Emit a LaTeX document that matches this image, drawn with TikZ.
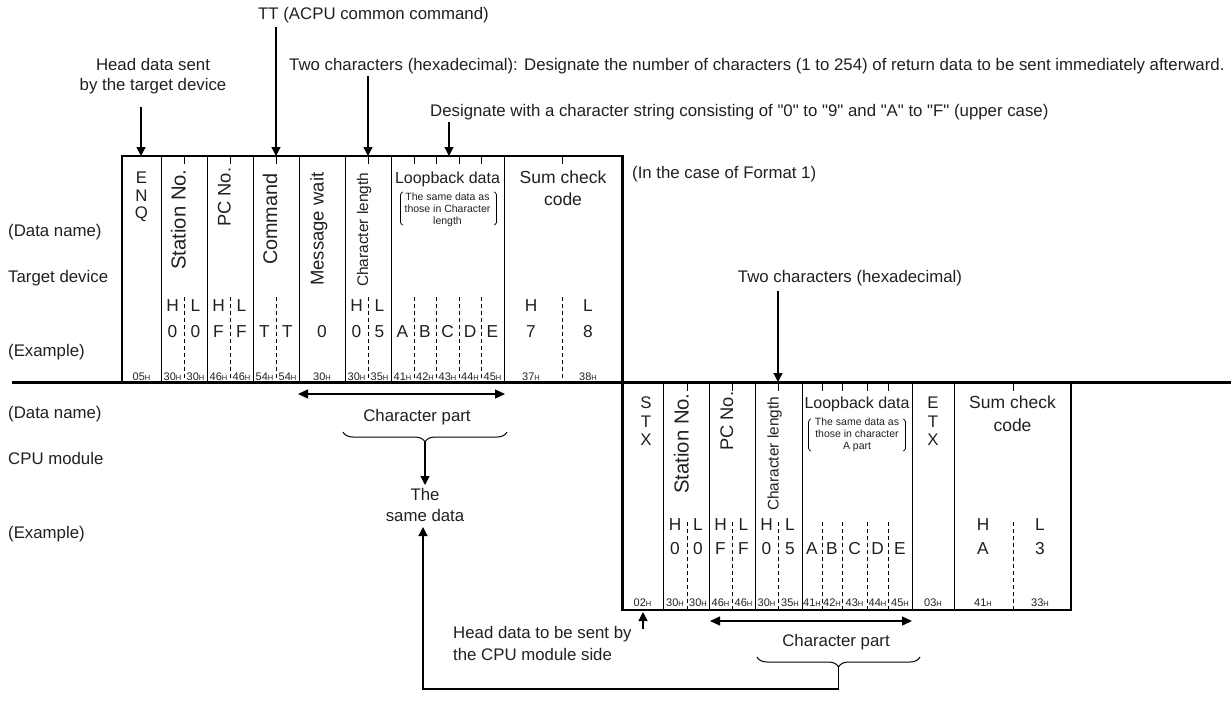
\documentclass[tikz,border=0pt]{standalone}
\usepackage{fontspec}
\setmainfont{Liberation Sans}[Ligatures=TeXOff]
\usetikzlibrary{arrows.meta,decorations.pathreplacing}
\definecolor{ink}{RGB}{35,31,32}
\newcommand\hx[1]{#1{\fontsize{7.5}{8}\selectfont H}}
\begin{document}
\begin{tikzpicture}[x=1pt,y=-1pt,
  lbl/.style={font=\fontsize{16.8}{20}\selectfont, inner sep=0pt, text=ink, text height=0.72em, text depth=0pt},
  lbll/.style={lbl, anchor=west},
  vert/.style={lbl, font=\fontsize{#1}{20}\selectfont, rotate=90, anchor=west},
  head/.style={lbl, font=\fontsize{16}{19}\selectfont},
  sum/.style={lbl, font=\fontsize{17.5}{20}\selectfont},
  cell/.style={lbl, font=\fontsize{17.3}{20}\selectfont},
  small/.style={font=\fontsize{10.5}{12}\selectfont, inner sep=0pt, text=ink, text height=0.72em, text depth=0pt},
  hex/.style={font=\fontsize{11}{12}\selectfont, inner sep=0pt, text=ink, text height=0.72em, text depth=0pt},
  frame/.style={line width=2.4pt, line join=miter},
  sep/.style={line width=1pt},
  dsh/.style={line width=0.9pt, dash pattern=on 4pt off 3pt},
  brk/.style={line width=0.7pt, rounded corners=1.5pt},
  arr/.style={line width=1.3pt, -{Triangle[length=9pt,width=9pt]}},
  darr/.style={line width=1.3pt, {Triangle[length=10pt,width=9pt]}-{Triangle[length=10pt,width=9pt]}},
  brace/.style={line width=1pt, decorate, decoration={brace, amplitude=10pt}}
]
\useasboundingbox (0,0) rectangle (1231,702);

% ---------- frames ----------
\draw[frame] (12,382.5) -- (1231,382.5);
\draw[frame] (122,382.5) |- (622.5,156) -- (622.5,610) -| (1071,382.5);

\foreach \x in {161,207,253,299,345,391,504} \draw[sep] (\x,156) -- (\x,382);
\foreach \x in {663,709,755,802,912,954} \draw[sep] (\x,383) -- (\x,610);
\foreach \x in {184,230,276,368,414,436,459,481,562} {
  \draw[sep] (\x,156) -- (\x,164);
  \draw[dsh] (\x,297) -- (\x,382);}
\foreach \x in {687,732,778,822,842,867,888,1013} {
  \draw[sep] (\x,383) -- (\x,391);
  \draw[dsh] (\x,522) -- (\x,610);}

% ---------- left labels ----------
\node[lbll] (ldn1) at (8,233) {(Data name)};
\node[lbll] (ltd)  at (8,279) {Target device};
\node[lbll] (lex1) at (8,353) {(Example)};
\node[lbll] (ldn2) at (8,415) {(Data name)};
\node[lbll] (lcpu) at (8,461) {CPU module};
\node[lbll] (lex2) at (8,535) {(Example)};

% ---------- top annotations ----------
\node[lbll] (tt) at (258,16) {TT (ACPU common command)};
\node[lbl] (hd1) at (153,67) {Head data sent};
\node[lbl] (hd2) at (153,87) {by the target device};
\node[lbll] (twoc) at (289,67) {Two characters (hexadecimal): Designate the number of characters (1 to 254) of return data to be sent immediately afterward.};
\node[lbll] (desig) at (430,113) {Designate with a character string consisting of "0" to "9" and "A" to "F" (upper case)};
\node[lbll] (fmt) at (632,175) {(In the case of Format 1)};
\node[lbl] (twoc2) at (850,279) {Two characters (hexadecimal)};

\coordinate (a1s) at (141,107); \coordinate (a1e) at (141,156);
\coordinate (a2s) at (276,27);  \coordinate (a2e) at (276,156);
\coordinate (a3s) at (368,76);  \coordinate (a3e) at (368,156);
\coordinate (a4s) at (449,122); \coordinate (a4e) at (449,156);
\coordinate (a5s) at (778,291); \coordinate (a5e) at (778,382);
\draw[arr] (a1s) -- (a1e);
\draw[arr] (a2s) -- (a2e);
\draw[arr] (a3s) -- (a3e);
\draw[arr] (a4s) -- (a4e);
\draw[arr] (a5s) -- (a5e);

% ---------- top frame content ----------
\node[lbl] (tE) at (141.5,180) {E};
\node[lbl] (tN) at (141.5,197.5) {N};
\node[lbl] (tQ) at (141.5,215) {Q};
\node[vert=20.3] (tst) at (182,270) {Station No.};
\node[vert=18.3] (tpc) at (227,227) {PC No.};
\node[vert=19.8] (tcm) at (273.5,265) {Command};
\node[vert=18.5] (tmw) at (320,286) {Message wait};
\node[vert=15.4] (tcl) at (364.5,287) {Character length};
\node[head] (tlb) at (447.5,180) {Loopback data};
\node[small] (tlb1) at (447.5,197) {The same data as};
\node[small] (tlb2) at (447.5,209) {those in Character};
\node[small] (tlb3) at (447.5,221) {length};
\draw[brk] (403,192) -- (400.5,193) -- (400.5,224) -- (403,225);
\draw[brk] (494,192) -- (496.5,193) -- (496.5,224) -- (494,225);
\node[sum] (tsc1) at (563,180) {Sum check};
\node[sum] (tsc2) at (563,202) {code};

\foreach \x/\t [count=\i] in {172.5/H,195.5/L,218.5/H,241.5/L,356.5/H,379.5/L,531/H,588/L}
  \node[cell] (thl\i) at (\x,308) {\t};
\foreach \x/\t [count=\i] in {172.5/0,195.5/0,218.5/F,241.5/F,264.5/T,287.5/T,322/0,356.5/0,379.5/5,402.5/A,425/B,447.5/C,470/D,492.5/E,531/7,588/8}
  \node[cell] (tdg\i) at (\x,334) {\t};
\foreach \x/\t [count=\i] in {141.5/05,172.5/30,195.5/30,218.5/46,241.5/46,264.5/54,287.5/54,322/30,356.5/30,379.5/35,402.5/41,425/42,447.5/43,470/44,492.5/45,531/37,588/38}
  \node[hex] (thx\i) at (\x,377) {\hx{\t}};

% ---------- bottom frame content ----------
\node[lbl] (bS) at (646,405) {S};
\node[lbl] (bT) at (646,423.5) {T};
\node[lbl] (bX) at (646,442) {X};
\node[lbl] (eE) at (933,405) {E};
\node[lbl] (eT) at (933,423.5) {T};
\node[lbl] (eX) at (933,442) {X};
\node[vert=20.3] (bst) at (685,494) {Station No.};
\node[vert=18.3] (bpc) at (729.5,451) {PC No.};
\node[vert=15.4] (bcl) at (775,511) {Character length};
\node[head] (blb) at (857,405) {Loopback data};
\node[small] (blb1) at (857,422) {The same data as};
\node[small] (blb2) at (857,434) {those in character};
\node[small] (blb3) at (857,446) {A part};
\draw[brk] (811,419) -- (808.5,420) -- (808.5,450) -- (811,451);
\draw[brk] (903,419) -- (905.5,420) -- (905.5,450) -- (903,451);
\node[sum] (bsc1) at (1012.5,405) {Sum check};
\node[sum] (bsc2) at (1012.5,428) {code};

\foreach \x/\t [count=\i] in {675/H,698/L,720.5/H,743.5/L,766.5/H,790/L,983/H,1040/L}
  \node[cell] (bhl\i) at (\x,527) {\t};
\foreach \x/\t [count=\i] in {675/0,698/0,720.5/F,743.5/F,766.5/0,790/5,812/A,832/B,854.5/C,877.5/D,900/E,983/A,1040/3}
  \node[cell] (bdg\i) at (\x,551) {\t};
\foreach \x/\t [count=\i] in {642.5/02,675/30,698/30,720.5/46,743.5/46,766.5/30,790/35,812/41,832/42,854.5/43,877.5/44,900/45,933/03,983/41,1040/33}
  \node[hex] (bhx\i) at (\x,603) {\hx{\t}};

% ---------- character parts ----------
\coordinate (c1a) at (298,394); \coordinate (c1b) at (505,394);
\draw[darr] (c1a) -- (c1b);
\node[lbl] (cp1) at (417,418) {Character part};
\draw[brace] (507,432) -- (343,432);
\coordinate (br1) at (425,442);
\node[lbl] (same1) at (425,497) {The};
\node[lbl] (same2) at (425,518) {same data};
\draw[arr] (br1) -- (425,485);

\coordinate (c2a) at (710,621); \coordinate (c2b) at (912,621);
\draw[darr] (c2a) -- (c2b);
\node[lbl] (cp2) at (836,643) {Character part};
\draw[brace] (920,657) -- (757,657);
\coordinate (br2) at (838.5,667);
\coordinate (ret) at (423,527);
\draw[arr] (br2) |- (423,689) -- (ret);

\node[lbll] (hc1) at (453,635) {Head data to be sent by};
\node[lbll] (hc2) at (453,657) {the CPU module side};
\coordinate (a6s) at (643,629); \coordinate (a6e) at (643,612);
\draw[arr] (a6s) -- (a6e);
\end{tikzpicture}
\end{document}
